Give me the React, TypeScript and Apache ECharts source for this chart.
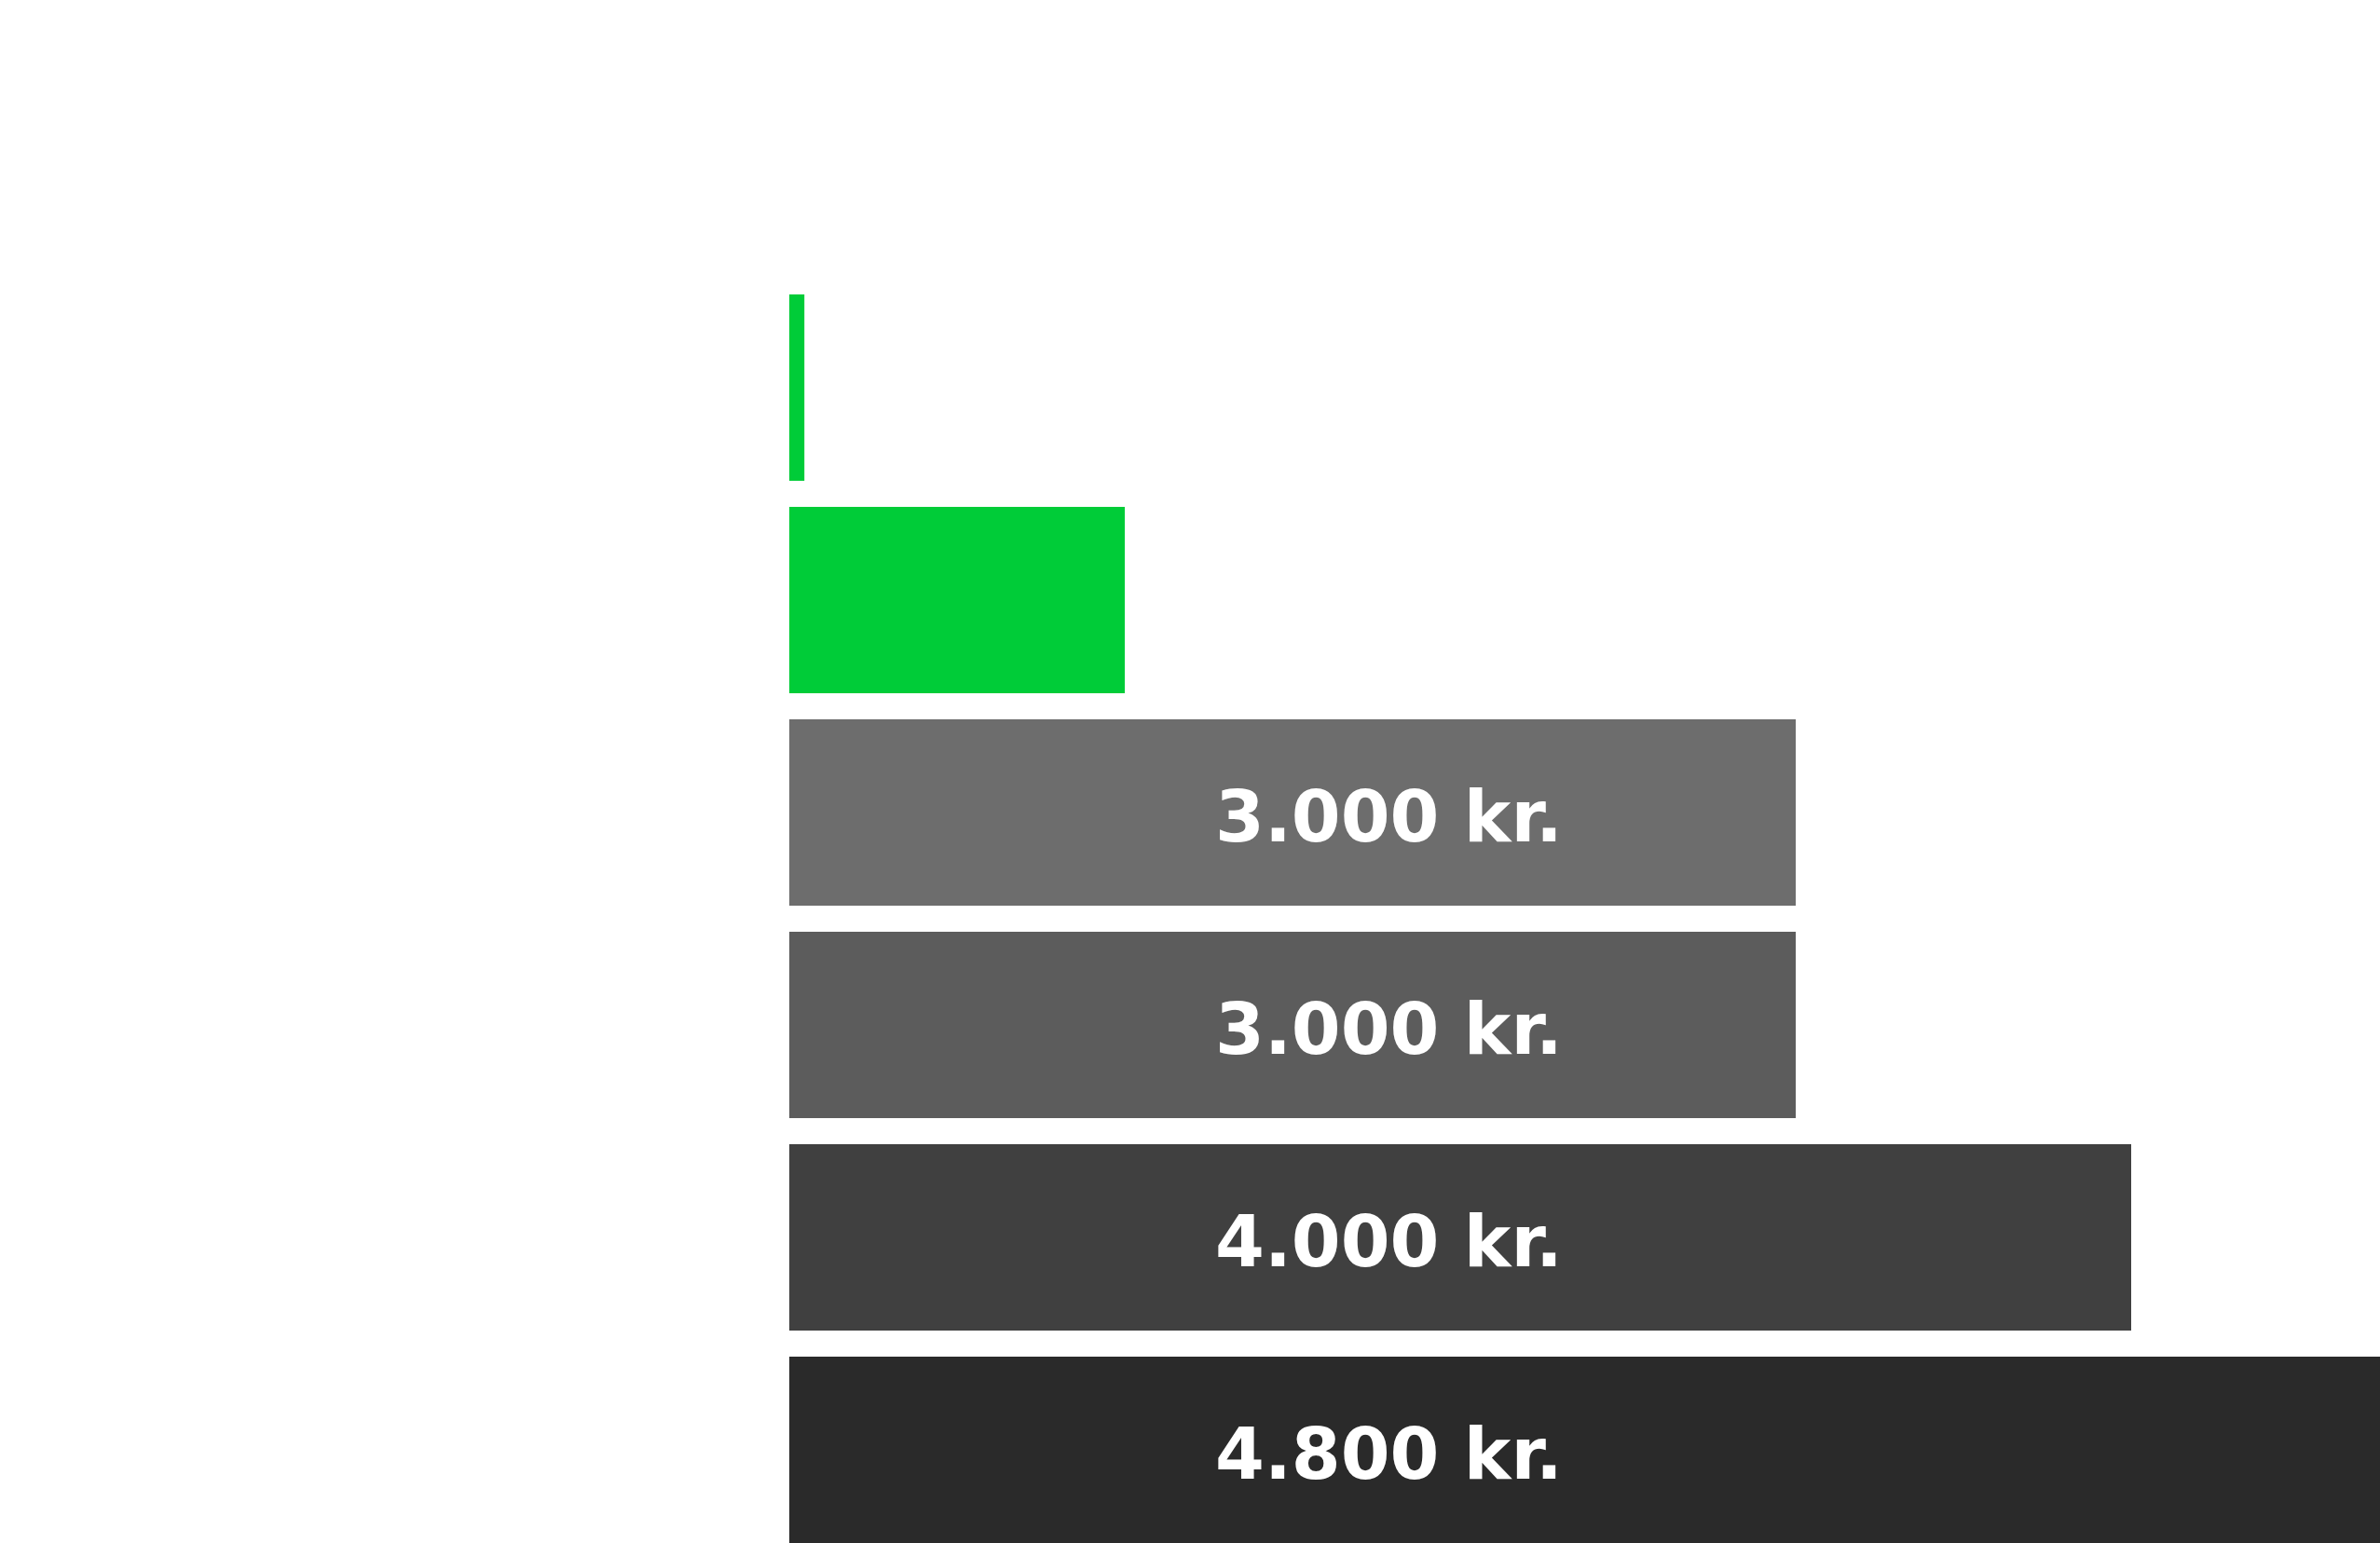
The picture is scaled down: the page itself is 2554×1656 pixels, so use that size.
import * as echarts from 'echarts';
import { useEffect, useRef } from 'react';

const categories = ['1', '2', '3', '4', '5', '6'];
const values = [45, 1000, 3000, 3000, 4000, 4800];
const barColors = ['#00cc38', '#00cc38', '#6d6d6d', '#5c5c5c', '#404040', '#2a2a2a'];
const showLabel = [false, false, true, true, true, true];

const formatKr = (v: number) =>
    v.toString().replace(/\B(?=(\d{3})+(?!\d))/g, '.') + ' kr.';

const App = () => {
    const divRef = useRef<HTMLDivElement>(null);

    useEffect(() => {
        document.body.style.overflow = 'hidden';
        const chart = echarts.init(divRef.current!, null, { renderer: 'svg' });

        // the bottom bar and the right end run past the window, as in the source
        chart.setOption({
            animation: false,
            grid: { left: 847, top: 302, right: 0, bottom: 0, containLabel: false },
            xAxis: {
                type: 'value',
                min: 0,
                max: 5000,
                interval: 1000,
                show: false
            },
            yAxis: {
                type: 'category',
                data: categories,
                inverse: true,
                show: false
            },
            series: [
                {
                    type: 'bar',
                    barCategoryGap: '12.3%',
                    clip: false,
                    data: values.map((v, i) => ({
                        value: v,
                        itemStyle: { color: barColors[i] },
                        label: { show: showLabel[i] }
                    })),
                    label: {
                        position: [457, 104],
                        align: 'left',
                        verticalAlign: 'middle',
                        color: '#ffffff',
                        fontFamily: 'DejaVu Sans',
                        fontWeight: 'bold',
                        fontSize: 76,
                        formatter: (p: any) => formatKr(p.value)
                    }
                }
            ]
        });

        return () => {
            chart.dispose();
        };
    }, []);

    return (
        <div
            ref={divRef}
            style={{ position: 'fixed', left: 0, top: 0, width: '2647px', height: '1670px', background: '#ffffff' }}
        ></div>
    );
};

export default App;
